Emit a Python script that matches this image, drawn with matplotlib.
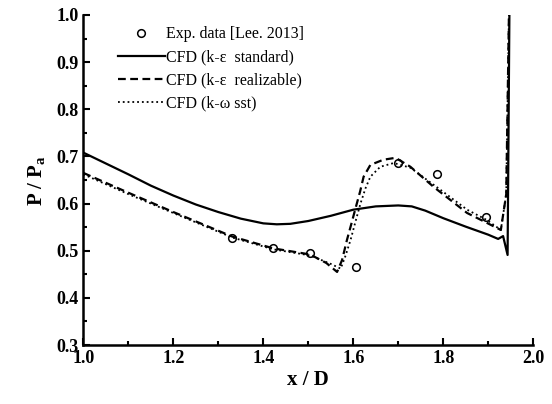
import numpy as np
import matplotlib
matplotlib.use("Agg")
import matplotlib.pyplot as plt

plt.rcParams['font.family'] = ['Liberation Serif', 'DejaVu Serif']
plt.rcParams['mathtext.fontset'] = 'custom'
plt.rcParams['mathtext.rm'] = 'Liberation Serif'
plt.rcParams['mathtext.bf'] = 'Liberation Serif:bold'

# 実験値 [Lee. 2013]
exp_x = [1.331, 1.422, 1.504, 1.607, 1.700, 1.787, 1.894]
exp_y = [0.527, 0.506, 0.495, 0.466, 0.686, 0.663, 0.572]

# CFD (k-e standard)
std_x = [1.0, 1.05, 1.1, 1.15, 1.2, 1.25, 1.3, 1.35, 1.4, 1.43, 1.46, 1.5, 1.55, 1.6,
         1.65, 1.7, 1.73, 1.76, 1.8, 1.85, 1.9, 1.922, 1.933, 1.943, 1.947]
std_y = [0.708, 0.685, 0.662, 0.638, 0.617, 0.598, 0.582, 0.568, 0.558, 0.556, 0.557, 0.563, 0.574, 0.587,
         0.594, 0.596, 0.594, 0.585, 0.569, 0.551, 0.534, 0.525, 0.531, 0.491, 1.0]

# CFD (k-e realizable)
rea_x = [1.0, 1.1, 1.2, 1.331, 1.422, 1.504, 1.54, 1.564, 1.575, 1.586, 1.596, 1.605, 1.615, 1.623,
         1.638, 1.667, 1.694, 1.727, 1.779, 1.853, 1.897, 1.928, 1.94, 1.946]
rea_y = [0.665, 0.623, 0.582, 0.530, 0.505, 0.492, 0.474, 0.455, 0.480, 0.523, 0.558, 0.590, 0.625, 0.657,
         0.682, 0.693, 0.697, 0.678, 0.635, 0.580, 0.559, 0.544, 0.62, 1.0]

# CFD (k-w sst)
sst_x = [1.0, 1.1, 1.2, 1.331, 1.422, 1.504, 1.55, 1.572, 1.583, 1.594, 1.605, 1.616, 1.627, 1.638,
         1.66, 1.69, 1.727, 1.794, 1.853, 1.897, 1.928, 1.94, 1.946]
sst_y = [0.662, 0.62, 0.58, 0.528, 0.503, 0.490, 0.472, 0.462, 0.49, 0.523, 0.562, 0.600, 0.632, 0.657,
         0.678, 0.686, 0.676, 0.629, 0.587, 0.565, 0.544, 0.62, 1.0]

fig = plt.figure(figsize=(5.52, 4.04), dpi=100)
ax = fig.add_axes([0.151, 0.146, 0.815, 0.817])

ax.plot(std_x, std_y, '-', color='black', lw=1.6, label=u'CFD (k-\u03b5  standard)')
ax.plot(rea_x, rea_y, '--', color='black', lw=1.6, dashes=(3.5, 2), label=u'CFD (k-\u03b5  realizable)')
ax.plot(sst_x, sst_y, ':', color='black', lw=1.3, label=u'CFD (k-\u03c9 sst)')
ax.plot(exp_x, exp_y, 'o', mfc='none', mec='black', ms=5.5, mew=1.1, label='Exp. data [Lee. 2013]')

ax.set_xlim(1.0, 2.0)
ax.set_ylim(0.3, 1.0)
ax.set_xticks(np.arange(1.0, 2.01, 0.2))
ax.set_xticks(np.arange(1.0, 2.01, 0.1), minor=True)
ax.set_yticks(np.arange(0.3, 1.01, 0.1))
ax.set_yticks(np.arange(0.3, 1.01, 0.05), minor=True)
ax.tick_params(which='both', direction='in', width=1.5, labelsize=13)
ax.tick_params(which='major', length=5)
ax.tick_params(which='minor', length=3)
for lab in ax.get_xticklabels() + ax.get_yticklabels():
    lab.set_fontweight('bold')

ax.spines['top'].set_visible(False)
ax.spines['right'].set_visible(False)
ax.spines['left'].set_linewidth(1.8)
ax.spines['bottom'].set_linewidth(1.8)

ax.set_xlabel('x / D', fontsize=15, fontweight='bold', labelpad=2)
ax.set_ylabel(r'P / P$_\mathbf{a}$', fontsize=15, fontweight='bold', labelpad=6)

h, l = ax.get_legend_handles_labels()
order = [3, 0, 1, 2]
ax.legend([h[i] for i in order], [l[i] for i in order], loc='upper left',
          bbox_to_anchor=(0.06, 0.99), frameon=False, fontsize=11.5,
          handlelength=2.9, handletextpad=0.1, labelspacing=0.45, borderpad=0,
          numpoints=1)

fig.savefig('out.png', dpi=100)
